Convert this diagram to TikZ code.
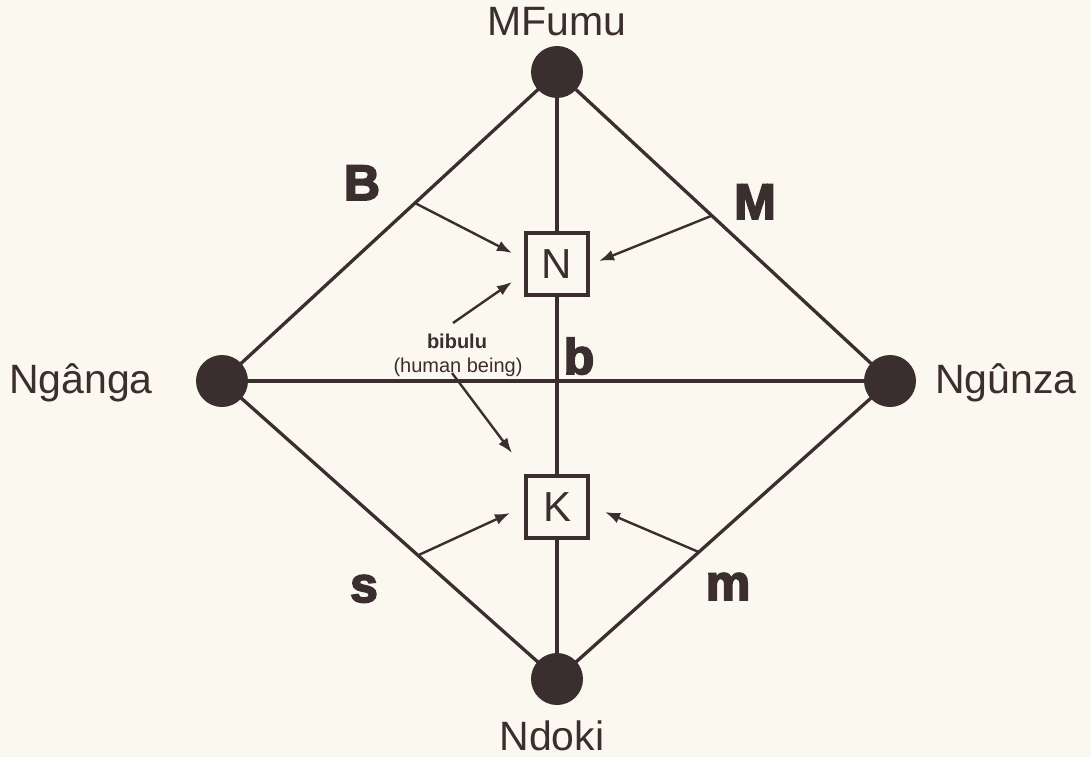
\documentclass[tikz,border=0pt]{standalone}
\usepackage{fontspec}
\setmainfont{Liberation Sans}
\newfontfamily\heavyfont[FakeBold=3.5]{Liberation Sans Bold}
\usetikzlibrary{arrows.meta,calc}
\definecolor{ink}{RGB}{58,46,46}
\definecolor{paper}{RGB}{251,248,239}
\begin{document}
\begin{tikzpicture}[x=1pt,y=-1pt,
  every node/.style={text=ink},
  vertex/.style={circle,fill=ink,draw=none,minimum size=52pt,inner sep=0pt},
  rolebox/.style={draw=ink,fill=paper,line width=4.8pt,minimum size=62pt,inner sep=0pt,
    font=\fontsize{42}{46}\selectfont},
  vname/.style={font=\fontsize{41}{45}\selectfont,inner sep=0pt},
  letter/.style={font=\heavyfont\fontsize{50}{54}\selectfont,inner sep=0pt,anchor=base},
  note/.style={font=\fontsize{20}{22}\selectfont,inner sep=0pt,anchor=base},
  rim/.style={draw=ink,line width=3.3pt},
  pointer/.style={draw=ink,line width=2.4pt,-{Latex[length=15pt,width=11pt]}}]

% background and page size
\fill[paper] (0,0) rectangle (1091,757);
\useasboundingbox (0,0) rectangle (1091,757);

% vertex and box positions
\coordinate (mf) at (557,72);
\coordinate (ng) at (222,381);
\coordinate (nu) at (890,381);
\coordinate (nd) at (557,679);

% edges of the diamond and the two axes
\draw[rim] (ng) -- (mf) -- (nu) -- (nd) -- cycle;
\draw[rim] (ng) -- (nu);
\draw[rim] (mf) -- (nd);

% the four vertices
\node[vertex] (vmf) at (mf) {};
\node[vertex] (vng) at (ng) {};
\node[vertex] (vnu) at (nu) {};
\node[vertex] (vnd) at (nd) {};

% the two inner boxes
\node[rolebox] (N) at (557,264) {N};
\node[rolebox] (K) at (557,507) {K};

% vertex names
\node[vname,anchor=base] (tmf) at (557,36) {MFumu};
\node[vname,anchor=base west] (tng) at (9,393) {Ngânga};
\node[vname,anchor=base west] (tnu) at (935,393) {Ngûnza};
\node[vname,anchor=base] (tnd) at (552,750) {Ndoki};

% letters on the edges
\node[letter] (lB) at (362,200) {B};
\node[letter] (lM) at (755,219) {M};
\node[letter] (lb) at (579,374) {b};
\node[letter] (ls) at (364,602) {s};
\node[letter] (lm) at (728,600) {m};

% the human being label
\node[note] (bib) at (457,348) {\bfseries bibulu};
\node[note] (hum) at (458,372) {(human being)};

% arrow ends
\coordinate (pB) at ($(ng)!0.576!(mf)$);
\coordinate (pM) at ($(nu)!0.535!(mf)$);
\coordinate (ps) at ($(ng)!0.585!(nd)$);
\coordinate (pm) at ($(nu)!0.574!(nd)$);
\coordinate (hB) at (512,253);
\coordinate (hM) at (599,261);
\coordinate (hs) at (510,513);
\coordinate (hm) at (605,512);
\coordinate (bu0) at (453,323);
\coordinate (bu1) at (512,282);
\coordinate (bd0) at (452,373);
\coordinate (bd1) at (512,453);

\draw[pointer] (pB) -- (hB);
\draw[pointer] (pM) -- (hM);
\draw[pointer] (ps) -- (hs);
\draw[pointer] (pm) -- (hm);
\draw[pointer] (bu0) -- (bu1);
\draw[pointer] (bd0) -- (bd1);
\end{tikzpicture}
\end{document}
